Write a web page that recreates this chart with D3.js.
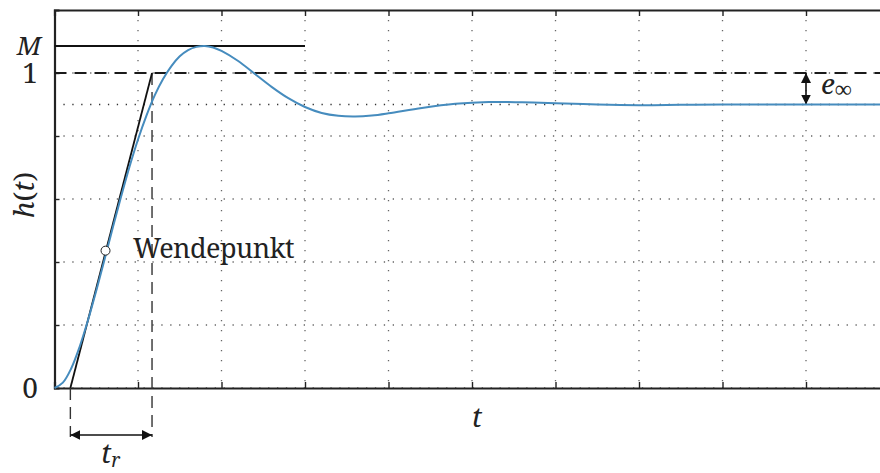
<!DOCTYPE html>
<html>
<head>
<meta charset="utf-8">
<script src="https://cdn.jsdelivr.net/npm/d3@7"></script>
<style>
  body { margin: 0; background: #fff; }
</style>
</head>
<body>
<div id="chart"></div>
<script>
// step response h(t)
var tValues = [0, 0.1, 0.2, 0.3, 0.4, 0.5, 0.6, 0.7, 0.8, 0.9, 1.0, 1.1, 1.2, 1.3, 1.4, 1.5, 1.6, 1.7, 1.8, 1.9, 2.0,
               2.2, 2.4, 2.6, 2.8, 3.0, 3.2, 3.4, 3.6, 3.8, 4.0, 4.4, 4.8, 5.2, 5.6, 6.0, 6.5, 7.0, 7.5, 8.0, 9.0, 10.0];
var hValues = [0, 0.017, 0.062, 0.130, 0.214, 0.309, 0.409, 0.511, 0.610, 0.704, 0.789, 0.864, 0.929, 0.981, 1.022, 1.053, 1.073, 1.083, 1.086, 1.081, 1.070,
               1.038, 0.997, 0.956, 0.920, 0.892, 0.873, 0.864, 0.862, 0.865, 0.872, 0.889, 0.902, 0.908, 0.907, 0.904, 0.900, 0.898, 0.899, 0.900, 0.900, 0.900];

var xGrid = [1, 2, 3, 4, 5, 6, 7, 8, 9];
var yGrid = [0, 0.2, 0.4, 0.6, 0.8, 1.0];
var yTickLabels = [{v: 0, label: "0"}, {v: 1, label: "1"}];
var peakM = 1.086;      // M
var hFinal = 0.9;       // final value
var tangentT = [0.19, 1.168];   // tangent at Wendepunkt crosses h=0 and h=1
var inflection = {t: 0.611, h: 0.436};

var svgWidth = 880;
var svgHeight = 473;
var margin = {top: 10, left: 54.5};
var plotBottom = 388;
var serif = "\"Noto Serif\", serif";

var svg = d3.select("#chart")
  .append("svg")
  .attr("width", svgWidth)
  .attr("height", svgHeight);

var x = d3.scaleLinear().domain([0, 10]).range([margin.left, 889.5]);
var y = d3.scaleLinear().domain([0, 1.2]).range([plotBottom, margin.top]);

// arrow heads
var defs = svg.append("defs");
["start", "end"].forEach(function(k) {
  defs.append("marker")
    .attr("id", "arrow-" + k)
    .attr("viewBox", "0 0 10 10")
    .attr("refX", 10).attr("refY", 5)
    .attr("markerWidth", 10).attr("markerHeight", 10)
    .attr("markerUnits", "userSpaceOnUse")
    .attr("orient", k == "start" ? "auto-start-reverse" : "auto")
    .append("path")
    .attr("d", "M0,0 L10,5 L0,10 Z")
    .attr("fill", "#111");
});

// dotted grid
svg.append("g").selectAll("line")
  .data(xGrid)
  .enter().append("line")
  .attr("x1", d => x(d)).attr("x2", d => x(d))
  .attr("y1", margin.top).attr("y2", plotBottom)
  .attr("stroke", "#666").attr("stroke-width", 1.3)
  .attr("stroke-dasharray", "1.3,8.7");

svg.append("g").selectAll("line")
  .data(yGrid.concat([hFinal]))
  .enter().append("line")
  .attr("x1", x(0)).attr("x2", svgWidth)
  .attr("y1", d => y(d)).attr("y2", d => y(d))
  .attr("stroke", d => d == hFinal ? "#333" : "#666").attr("stroke-width", 1.3)
  .attr("stroke-dasharray", "1.3,7.6");

// frame with inward ticks
var bottomAxis = d3.axisBottom(x).tickValues(xGrid).tickSize(-6).tickFormat("");
var topAxis = d3.axisTop(x).tickValues(xGrid).tickSize(-6).tickFormat("");
var leftAxis = d3.axisLeft(y).tickValues(yGrid.slice(1)).tickSize(-5).tickFormat("");

[[bottomAxis, `translate(0,${plotBottom})`], [topAxis, `translate(0,${margin.top})`], [leftAxis, `translate(${margin.left},0)`]]
  .forEach(function(a) {
    var g = svg.append("g").attr("transform", a[1]).call(a[0]);
    g.select(".domain").attr("stroke", "#222").attr("stroke-width", 2.2);
    g.selectAll(".tick line").attr("stroke", "#222").attr("stroke-width", 1.4);
  });

// level 1 dashed
svg.append("line")
  .attr("x1", x(0)).attr("x2", svgWidth)
  .attr("y1", y(1)).attr("y2", y(1))
  .attr("stroke", "#1a1a1a").attr("stroke-width", 2)
  .attr("stroke-dasharray", "12,8");

// M line
svg.append("line")
  .attr("x1", x(0)).attr("x2", x(3))
  .attr("y1", y(peakM)).attr("y2", y(peakM))
  .attr("stroke", "#111").attr("stroke-width", 2);

// t_r helper lines
svg.append("line")
  .attr("x1", x(tangentT[0])).attr("x2", x(tangentT[0]))
  .attr("y1", y(0)).attr("y2", 437)
  .attr("stroke", "#333").attr("stroke-width", 1.4)
  .attr("stroke-dasharray", "12,7");
svg.append("line")
  .attr("x1", x(tangentT[1])).attr("x2", x(tangentT[1]))
  .attr("y1", y(1)).attr("y2", 437)
  .attr("stroke", "#333").attr("stroke-width", 1.4)
  .attr("stroke-dasharray", "12,7");

svg.append("line")
  .attr("x1", x(tangentT[0])).attr("x2", x(tangentT[1]))
  .attr("y1", 435).attr("y2", 435)
  .attr("stroke", "#111").attr("stroke-width", 1.6)
  .attr("marker-start", "url(#arrow-start)")
  .attr("marker-end", "url(#arrow-end)");

// e_inf arrow
svg.append("line")
  .attr("x1", x(9)).attr("x2", x(9))
  .attr("y1", y(1)).attr("y2", y(hFinal))
  .attr("stroke", "#111").attr("stroke-width", 1.6)
  .attr("marker-start", "url(#arrow-start)")
  .attr("marker-end", "url(#arrow-end)");

// tangent
svg.append("line")
  .attr("x1", x(tangentT[0])).attr("x2", x(tangentT[1]))
  .attr("y1", y(0)).attr("y2", y(1))
  .attr("stroke", "#111").attr("stroke-width", 1.8);

// response curve
var data = tValues.map((t, i) => ({t: t, h: hValues[i]}));
var line = d3.line()
  .x(d => x(d.t))
  .y(d => y(d.h))
  .curve(d3.curveCatmullRom);

svg.append("path")
  .datum(data)
  .attr("d", line)
  .attr("fill", "none")
  .attr("stroke", "#468cbe")
  .attr("stroke-width", 2);

svg.append("circle")
  .attr("cx", x(inflection.t)).attr("cy", y(inflection.h))
  .attr("r", 4.5)
  .attr("fill", "#fff").attr("stroke", "#222").attr("stroke-width", 1);

// labels (font set inline on every text)
function label(sel, size, italic) {
  return sel.attr("fill", "#222")
    .style("font-family", serif)
    .style("font-size", size + "px")
    .style("font-style", italic ? "italic" : "normal");
}

svg.selectAll(".ylab")
  .data(yTickLabels)
  .enter().append("text")
  .attr("class", "ylab")
  .attr("x", 30).attr("y", d => y(d.v) + 10)
  .attr("text-anchor", "middle")
  .call(label, 28, false)
  .text(d => d.label);

svg.append("text")
  .attr("x", 29).attr("y", y(peakM) + 9)
  .attr("text-anchor", "middle")
  .call(label, 26, true)
  .text("M");

var ylab = svg.append("text")
  .attr("transform", "translate(34,195) rotate(-90)")
  .attr("text-anchor", "middle")
  .call(label, 28, false);
ylab.append("tspan").call(label, 28, true).text("h");
ylab.append("tspan").call(label, 28, false).text("(");
ylab.append("tspan").call(label, 28, true).text("t");
ylab.append("tspan").call(label, 28, false).text(")");

svg.append("text")
  .attr("x", 477).attr("y", 427)
  .attr("text-anchor", "middle")
  .call(label, 28, true)
  .text("t");

var tr = svg.append("text")
  .attr("x", 101).attr("y", 463)
  .call(label, 28, true);
tr.append("tspan").call(label, 28, true).text("t");
tr.append("tspan").attr("dy", 4).call(label, 19, true).text("r");

var einf = svg.append("text")
  .attr("x", 821).attr("y", 94)
  .call(label, 28, true);
einf.append("tspan").call(label, 28, true).text("e");
einf.append("tspan").attr("dy", 3).call(label, 24, false).text("∞");

svg.append("text")
  .attr("x", 133).attr("y", 258)
  .call(label, 27, false)
  .style("letter-spacing", "-0.5px")
  .text("Wendepunkt");
</script>
</body>
</html>
